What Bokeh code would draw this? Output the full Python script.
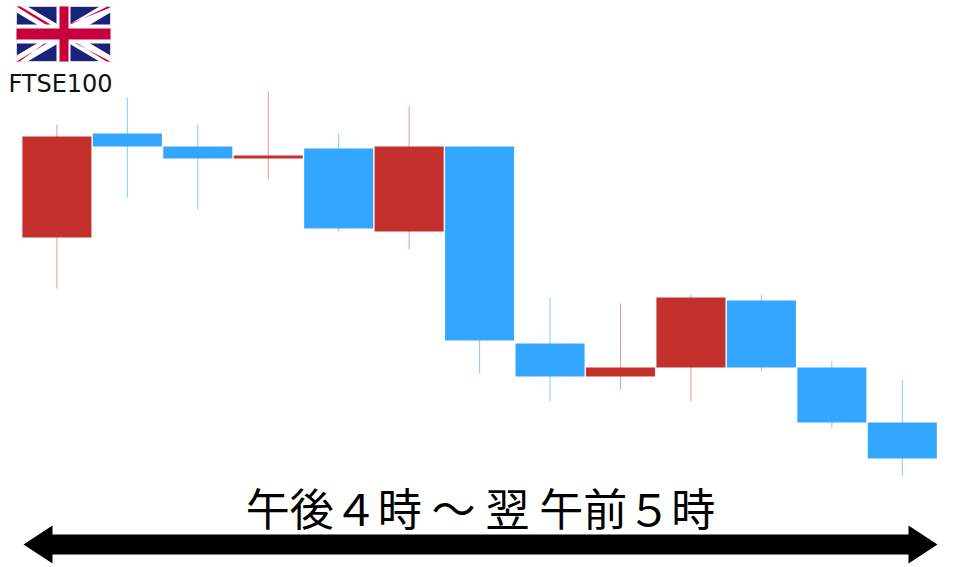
from bokeh.embed import file_html
from bokeh.resources import INLINE
from bokeh.plotting import figure
from bokeh.models import Range1d, ColumnDataSource
from bokeh.core.properties import value

# Candle values (arbitrary index units)
sessions = list(range(13))
opens  = [243, 347, 334, 322, 332, 249, 334, 137, 104, 113, 180, 113, 58]
closes = [344, 334, 322, 325, 252, 334, 140, 104, 113, 183, 113, 58, 22]
highs  = [356, 383, 356, 389, 347, 374, 334, 183, 177, 186, 186, 119, 101]
lows   = [192, 283, 271, 301, 249, 231, 107, 79, 91, 79, 109, 52, 4]

RED, BLUE = "#C4302B", "#33A6FF"
RED_W, BLUE_W = "#E8999B", "#85CBFF"

colors = [RED if c > o else BLUE for o, c in zip(opens, closes)]
wicks = [RED_W if c > o else BLUE_W for o, c in zip(opens, closes)]
source = ColumnDataSource(dict(
    x=sessions, top=[max(o, c) for o, c in zip(opens, closes)],
    bottom=[min(o, c) for o, c in zip(opens, closes)],
    high=highs, low=lows, color=colors, wick=wicks))

W, H = 944, 564
X0, STEP = 56.4, 70.45
p = figure(width=W, height=H, output_backend="svg", toolbar_location=None,
           x_range=Range1d((0 - X0) / STEP, (W - X0) / STEP),
           y_range=Range1d(480 - H, 480), min_border=0,
           x_axis_type=None, y_axis_type=None, outline_line_color=None)
p.grid.visible = False
p.extra_x_ranges = {"px": Range1d(0, W)}
p.extra_y_ranges = {"px": Range1d(H, 0)}

p.segment("x", "low", "x", "high", source=source, line_color="wick", line_width=1)
p.vbar("x", width=0.98, top="top", bottom="bottom", source=source,
       fill_color="color", line_color=None)

D = dict(x_range_name="px", y_range_name="px")

# Flag
L, R, T, B = 16, 110, 6, 61
p.patch([L, R, R, L], [T, T, B, B], fill_color="#1A237B", line_color="#D8D8D8", line_width=1, **D)
p.patch([L, L + 11, R, R, R - 11, L], [T, T, B - 6, B, B, T + 6], fill_color="white", line_color=None, **D)
p.patch([R, R - 11, L, L, L + 11, R], [T, T, B - 6, B, B, T + 6], fill_color="white", line_color=None, **D)
for xs, ys in [([L, L + 4, 60, 55], [T, T, 30, 30]),
               ([R, R - 4, 66, 62], [B, B, 36, 36]),
               ([R, R - 3, 64, 60], [T + 1, T, 27, 27]),
               ([L, L + 3, 52, 56], [B, B, 37, 37])]:
    p.patch(xs, ys, fill_color="#C8003C", line_color=None, **D)
p.patch([L, R, R, L], [24, 24, 43, 43], fill_color="white", line_color=None, **D)
p.patch([56, 70, 70, 56], [T, T, B, B], fill_color="white", line_color=None, **D)
p.patch([L, R, R, L], [28, 28, 39, 39], fill_color="#C8003C", line_color=None, **D)
p.patch([59, 68, 68, 59], [T, T, B, B], fill_color="#C8003C", line_color=None, **D)

p.text([60], [83], text=["FTSE100"], text_font=value("DejaVu Sans"), text_font_size="24px",
       text_color="#111111", text_align="center", text_baseline="middle", **D)
p.text([480], [506], text=["午後４時 ～ 翌 午前５時"], text_font=value("Noto Sans CJK JP"),
       text_font_size="44px", text_color="#000000", text_align="center", text_baseline="middle", **D)

# Double arrow
p.patch([23, 52, 52, 908, 908, 937, 908, 908, 52, 52],
        [544, 525, 534, 534, 525, 544, 563, 554, 554, 563],
        fill_color="black", line_color=None, **D)

open("out.html", "w").write(file_html(p, INLINE))
